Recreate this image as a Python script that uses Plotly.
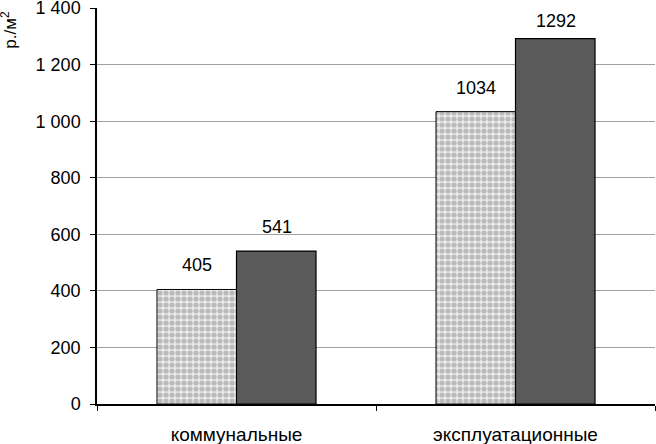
import plotly.graph_objects as go

categories = ["коммунальные", "эксплуатационные"]
series_a = [405, 1034]
series_b = [541, 1292]
y_ticks = [0, 200, 400, 600, 800, 1000, 1200, 1400]

font = "Liberation Sans, Arial, sans-serif"

fig = go.Figure()
fig.add_trace(go.Bar(
    x=categories, y=series_a, name="a",
    marker=dict(color="#ebebeb", line=dict(color="black", width=1),
                pattern=dict(shape=".", size=6, solidity=0.6,
                             fgcolor="#8c8c8c", bgcolor="#ebebeb")),
))
fig.add_trace(go.Bar(
    x=categories, y=series_b, name="b",
    marker=dict(color="#5a5a5a", line=dict(color="black", width=1.2)),
))

ann = []
for i, c in enumerate(categories):
    for vals, shift in ((series_a, -40), (series_b, 40)):
        ys = 18 if vals[i] > 1250 else 24
        ann.append(dict(x=c, y=vals[i], xref="x", yref="y", text=str(vals[i]),
                        showarrow=False, xshift=shift, yshift=ys,
                        font=dict(family=font, size=18, color="black")))
ann.append(dict(xref="paper", yref="paper", x=-0.158, y=0.998, text="р./м<sup>2</sup>",
                textangle=-90, showarrow=False, xanchor="center", yanchor="top",
                font=dict(family=font, size=17, color="black")))

fig.update_layout(
    width=656, height=444,
    margin=dict(l=97, r=1, t=8, b=40),
    paper_bgcolor="white", plot_bgcolor="white",
    barmode="group", bargap=0.43, bargroupgap=0,
    showlegend=False,
    separators=", ",
    annotations=ann,
    font=dict(family=font, size=18, color="black"),
)
fig.update_yaxes(range=[0, 1400.5], tickvals=y_ticks, tickformat=",d",
                 showgrid=True, gridcolor="#a0a0a0", gridwidth=1,
                 showline=True, linecolor="black", linewidth=1.5,
                 ticks="outside", ticklen=5, tickcolor="black",
                 tickfont=dict(size=18), zeroline=False, automargin=False,
                 ticklabeloverflow="allow", ticklabelstandoff=6)
fig.update_xaxes(showline=True, linecolor="black", linewidth=2,
                 ticks="outside", ticklen=5, tickcolor="black", tickson="boundaries",
                 tickfont=dict(size=19), automargin=False, ticklabelstandoff=12)

fig.write_html("out.html", config={"displayModeBar": False},
               post_script="document.body.style.margin='0';document.body.style.overflow='hidden';")
